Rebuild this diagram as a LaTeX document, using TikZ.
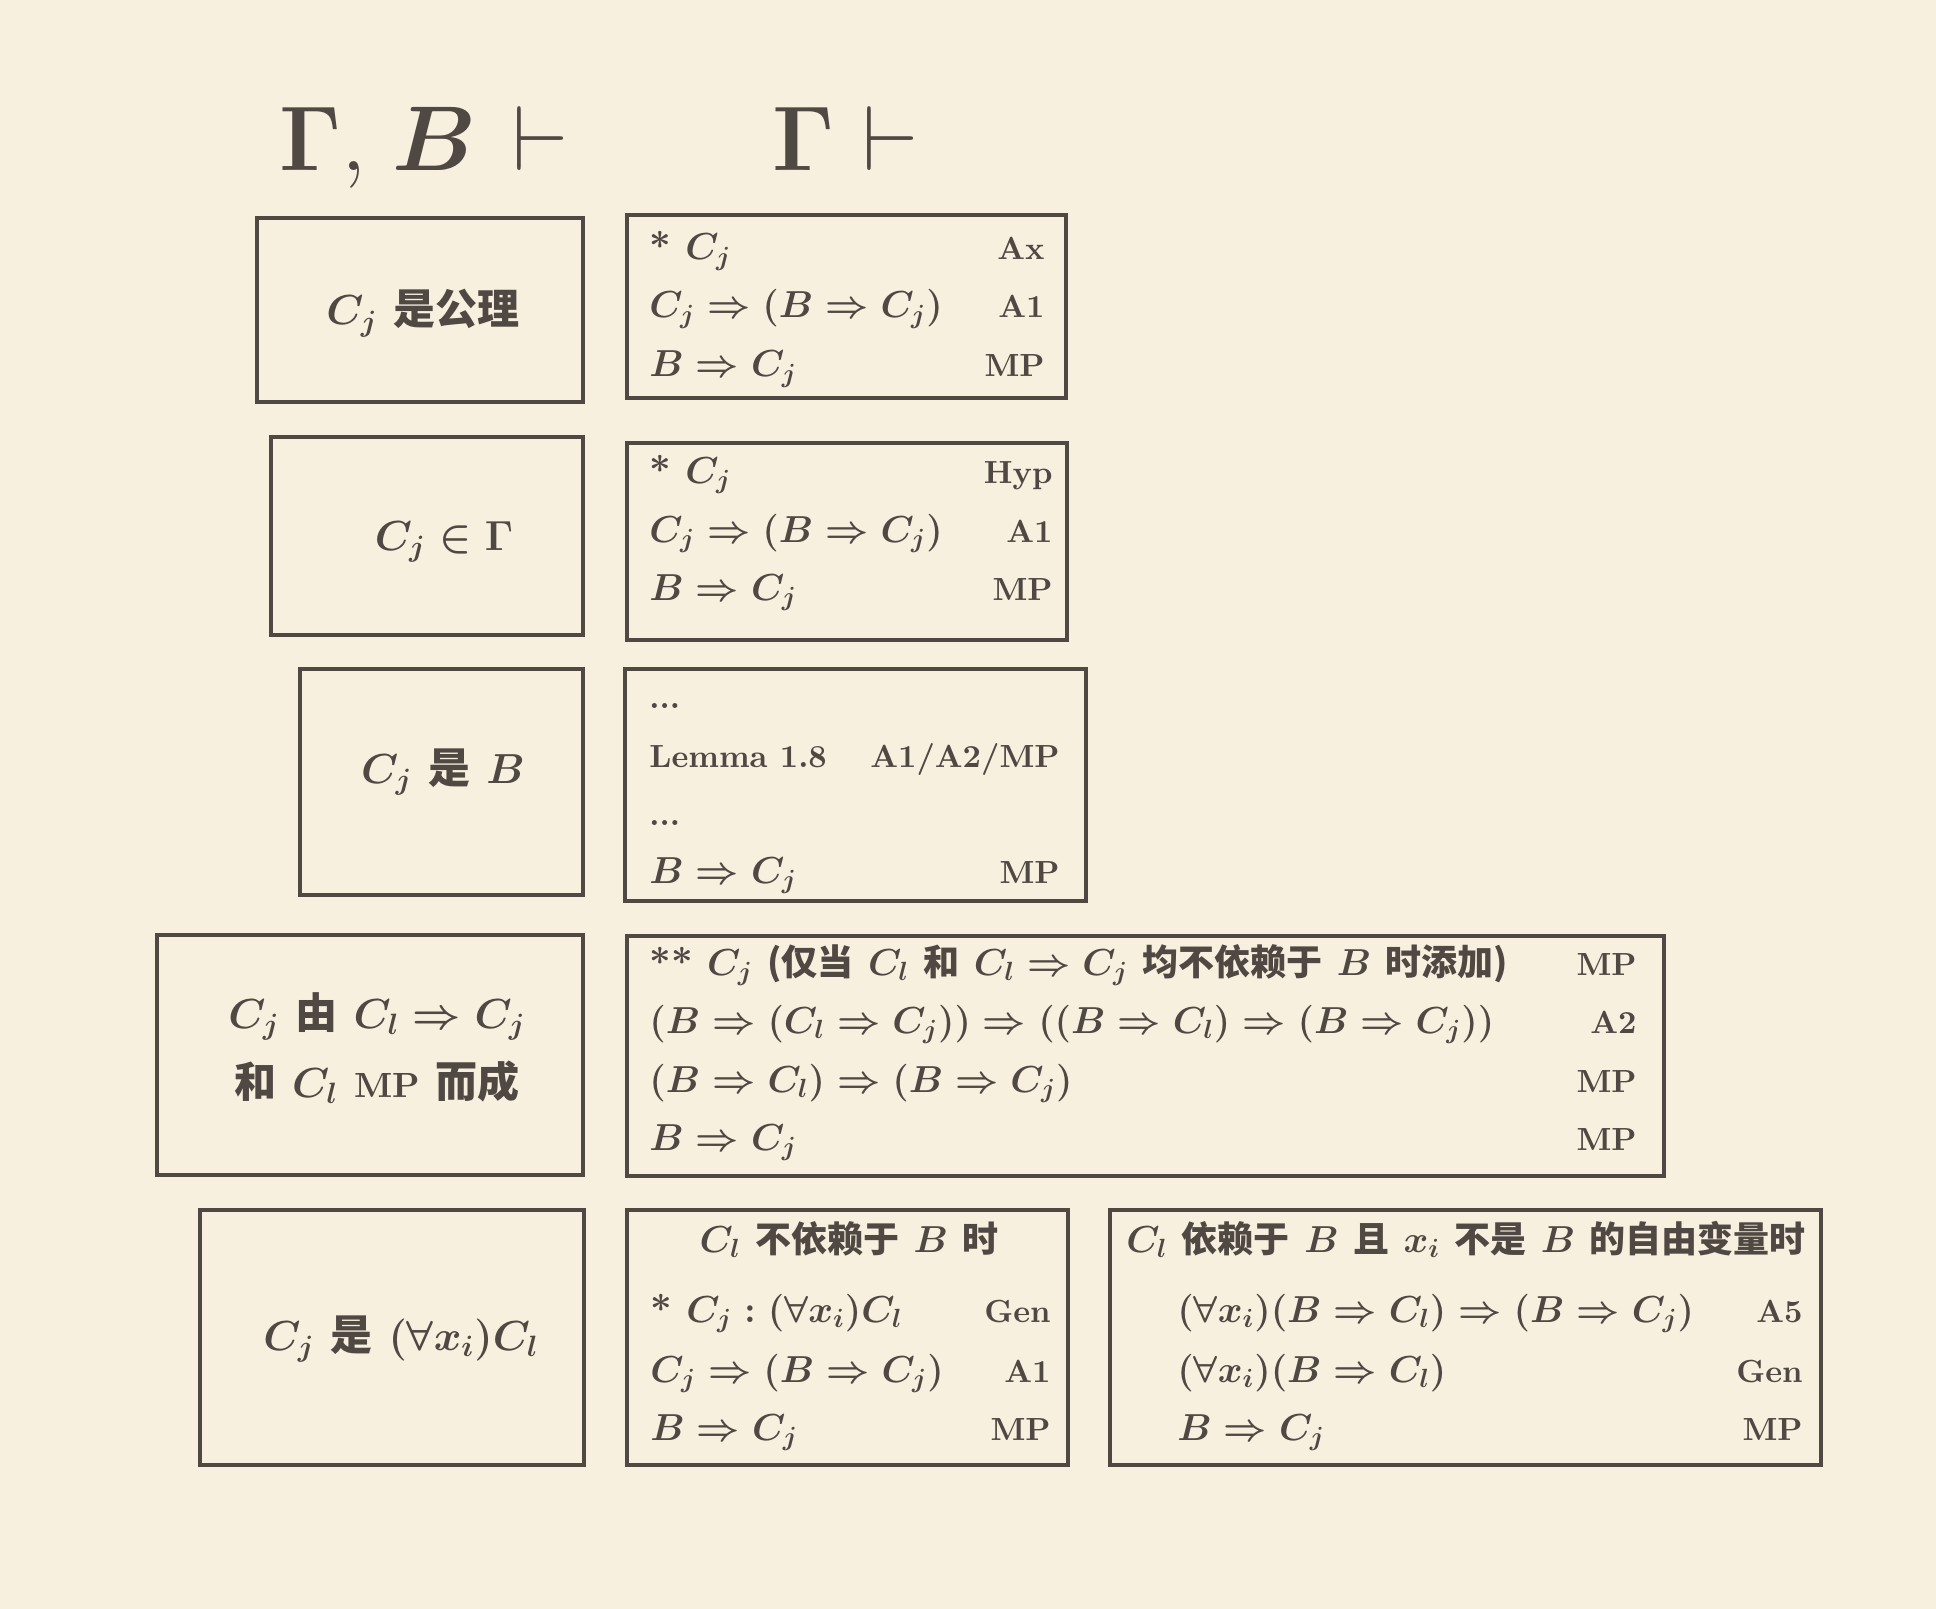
\RequirePackage{fix-cm}
\documentclass[tikz,border=0pt]{standalone}
\usepackage{amsmath}
\usepackage{fontspec}
\setmainfont{lmroman10-regular.otf}[BoldFont=lmroman10-bold.otf, ItalicFont=lmroman10-italic.otf, BoldItalicFont=lmroman10-bolditalic.otf]
\newfontfamily\cjk{Noto Sans CJK SC}
\definecolor{bg}{HTML}{F8F0DF}
\definecolor{ink}{HTML}{4F4843}
\newcommand\mathfont{\fontsize{18.8}{22}\selectfont\bfseries\boldmath}
\newcommand\labfont{\fontsize{16}{19}\selectfont\bfseries\boldmath}
\newcommand\leftfont{\fontsize{21}{24}\selectfont\bfseries\boldmath}
\newcommand\zh[1]{{\cjk\fontsize{18}{21}\selectfont #1}}
\newcommand\zhL[1]{{\cjk\fontsize{21}{23}\selectfont #1}}
\newcommand\mpL{{\fontsize{17.5}{20}\selectfont MP}}
\tikzset{
  box/.style={draw=ink, line width=1.75pt},
  ln/.style={anchor=base west, inner sep=0pt, text=ink, font=\mathfont},
  tx/.style={anchor=base west, inner sep=0pt, text=ink, font=\labfont},
  lb/.style={anchor=base east, inner sep=0pt, text=ink, font=\labfont},
  ct/.style={anchor=base, inner sep=0pt, text=ink, font=\mathfont},
  lt/.style={anchor=base, inner sep=0pt, text=ink, font=\leftfont},
  ttl/.style={anchor=base west, inner sep=0pt, text=ink, font=\fontsize{46}{50}\selectfont}
}
\begin{document}
\begin{tikzpicture}[x=0.5pt,y=-0.5pt]
\fill[bg] (0,0) rectangle (1936,1609);
\useasboundingbox (0,0) rectangle (1936,1609);
% titles
\node[ttl] (t1) at (279,171) {$\boldsymbol{\Gamma}, \mskip2mu \boldsymbol{B} \mskip 2mu \vdash$};
\node[ttl] (t2) at (772,171) {$\boldsymbol{\Gamma} \mskip 0.5mu \vdash$};
% boxes
\draw[box] (257,218) rectangle (583,402);
\draw[box] (627,215) rectangle (1066,398);
\draw[box] (271,437) rectangle (583,635);
\draw[box] (627,443) rectangle (1067,640);
\draw[box] (300,669) rectangle (583,895);
\draw[box] (625,669) rectangle (1086,901);
\draw[box] (157,935) rectangle (583,1175);
\draw[box] (627,936) rectangle (1664,1176);
\draw[box] (200,1210) rectangle (584,1465);
\draw[box] (627,1210) rectangle (1068,1465);
\draw[box] (1110,1210) rectangle (1821,1465);
% left texts
\node[lt] (l1) at (423,325) {$C_j$ \zhL{是公理}};
\node[lt] (l2) at (444,550) {$C_j \in \Gamma$};
\node[lt] (l3) at (443,783) {$C_j$ \zhL{是} $B$};
\node[lt] (l4a) at (377,1028) {$C_j$ \zhL{由} $C_l \Rightarrow C_j$};
\node[lt] (l4b) at (377,1097) {\zhL{和} $C_l$ \mpL{} \zhL{而成}};
\node[lt] (l5) at (401,1350) {$C_j$ \zhL{是} $(\forall x_i)C_l$};
% box 1 right
\node[ln] (r1a) at (649,260) {* $C_j$};
\node[lb] (r1aL) at (1045,260) {Ax};
\node[ln] (r1b) at (649,318) {$C_j \Rightarrow (B \Rightarrow C_j)$};
\node[lb] (r1bL) at (1045,318) {A1};
\node[ln] (r1c) at (649,377) {$B \Rightarrow C_j$};
\node[lb] (r1cL) at (1045,377) {MP};
% box 2 right
\node[ln] (r2a) at (649,483) {* $C_j$};
\node[lb] (r2aL) at (1053,483) {Hyp};
\node[ln] (r2b) at (649,542) {$C_j \Rightarrow (B \Rightarrow C_j)$};
\node[lb] (r2bL) at (1053,542) {A1};
\node[ln] (r2c) at (649,600) {$B \Rightarrow C_j$};
\node[lb] (r2cL) at (1053,600) {MP};
% box 3 right
\node[tx] (r3a) at (649,708) {...};
\node[tx] (r3b) at (649,767) {Lemma 1.8};
\node[lb] (r3bL) at (1060,767) {A1/A2/MP};
\node[tx] (r3c) at (649,825) {...};
\node[ln] (r3d) at (649,883) {$B \Rightarrow C_j$};
\node[lb] (r3dL) at (1060,883) {MP};
% box 4 right
\node[ln] (r4a) at (649,975) {** $C_j$ \zh{(仅当} $C_l$ \zh{和} $C_l \Rightarrow C_j$ \zh{均不依赖于} $B$ \zh{时添加)}};
\node[lb] (r4aL) at (1637,975) {MP};
\node[ln] (r4b) at (649,1033) {$(B \Rightarrow (C_l \Rightarrow C_j)) \Rightarrow ((B \Rightarrow C_l) \Rightarrow (B \Rightarrow C_j))$};
\node[lb] (r4bL) at (1637,1033) {A2};
\node[ln] (r4c) at (649,1092) {$(B \Rightarrow C_l) \Rightarrow (B \Rightarrow C_j)$};
\node[lb] (r4cL) at (1637,1092) {MP};
\node[ln] (r4d) at (649,1150) {$B \Rightarrow C_j$};
\node[lb] (r4dL) at (1637,1150) {MP};
% box 5 middle
\node[ct] (m5h) at (849,1252) {$C_l$ \zh{不依赖于} $B$ \zh{时}};
\node[ln] (m5a) at (650,1322) {* $C_j : (\forall x_i)C_l$};
\node[lb] (m5aL) at (1051,1322) {Gen};
\node[ln] (m5b) at (650,1382) {$C_j \Rightarrow (B \Rightarrow C_j)$};
\node[lb] (m5bL) at (1051,1382) {A1};
\node[ln] (m5c) at (650,1440) {$B \Rightarrow C_j$};
\node[lb] (m5cL) at (1051,1440) {MP};
% box 5 right
\node[ln] (q5h) at (1126,1252) {$C_l$ \zh{依赖于} $B$ \zh{且} $x_i$ \zh{不是} $B$ \zh{的自由变量时}};
\node[ln] (q5a) at (1177,1322) {$(\forall x_i)(B \Rightarrow C_l) \Rightarrow (B \Rightarrow C_j)$};
\node[lb] (q5aL) at (1803,1322) {A5};
\node[ln] (q5b) at (1177,1382) {$(\forall x_i)(B \Rightarrow C_l)$};
\node[lb] (q5bL) at (1803,1382) {Gen};
\node[ln] (q5c) at (1177,1440) {$B \Rightarrow C_j$};
\node[lb] (q5cL) at (1803,1440) {MP};
\end{tikzpicture}
\end{document}
